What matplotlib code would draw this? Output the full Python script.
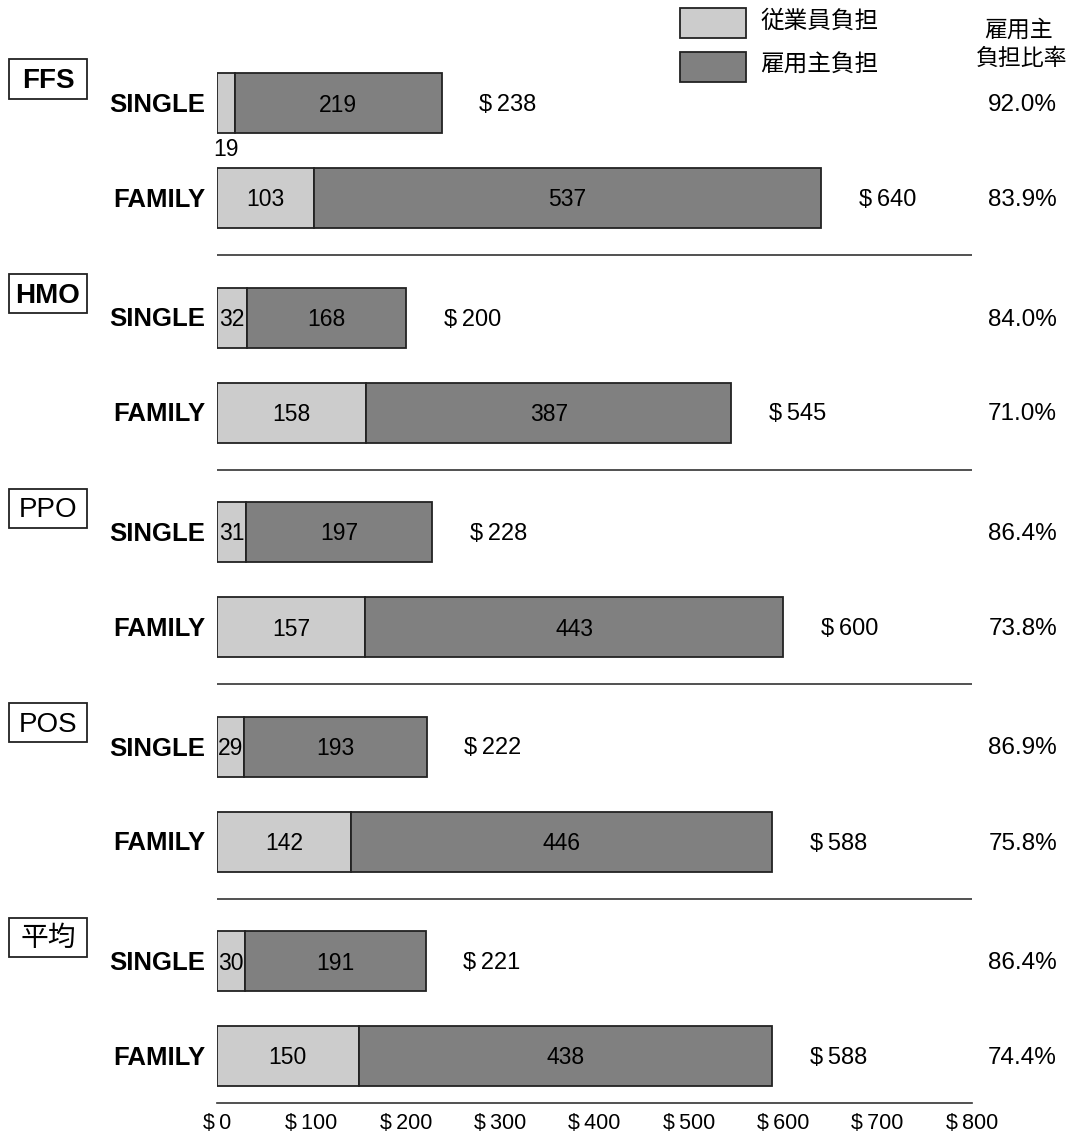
import matplotlib.pyplot as plt
from matplotlib.patches import Rectangle

plt.rcParams['font.family'] = ['Liberation Sans', 'Noto Sans CJK JP']

# data
plans = ['FFS', 'HMO', 'PPO', 'POS', '平均']
plan_bold = [True, True, False, False, False]
employee_single = [19, 32, 31, 29, 30]
employer_single = [219, 168, 197, 193, 191]
employee_family = [103, 158, 157, 142, 150]
employer_family = [537, 387, 443, 446, 438]
total_single = [238, 200, 228, 222, 221]
total_family = [640, 545, 600, 588, 588]
ratio_single = [92.0, 84.0, 86.4, 86.9, 86.4]
ratio_family = [83.9, 71.0, 73.8, 75.8, 74.4]
x_ticks = [0, 100, 200, 300, 400, 500, 600, 700, 800]

light = '#cccccc'
dark = '#808080'
edge = '#222222'

W, H = 1070, 1132
fig = plt.figure(figsize=(W / 100, H / 100), dpi=100)
ax = fig.add_axes([217 / W, 29 / H, 755 / W, 1103 / H])
ax.set_xlim(0, 800)
ax.set_ylim(1103, 0)  # y measured downward from the top


def fx(px):
    return px / W


def fy(py):
    return 1 - py / H


group_step = 214.5
family_offset = 95
bar_h = 60
dy = 2  # small nudge so text sits at the bar centre

for i, plan in enumerate(plans):
    yc = 103 + group_step * i
    rows = [
        ('SINGLE', yc, employee_single[i], employer_single[i], total_single[i], ratio_single[i]),
        ('FAMILY', yc + family_offset, employee_family[i], employer_family[i], total_family[i], ratio_family[i]),
    ]
    for name, y, emp, er, tot, ratio in rows:
        ax.barh(y, emp, height=bar_h, color=light, edgecolor=edge, linewidth=1.3)
        ax.barh(y, er, left=emp, height=bar_h, color=dark, edgecolor=edge, linewidth=1.3)
        if emp < 25:
            ax.text(emp / 2, y + bar_h / 2 + 16, str(emp), ha='center', va='center', fontsize=16.5)
        else:
            ax.text(emp / 2, y + dy, str(emp), ha='center', va='center', fontsize=16.5)
        ax.text(emp + er / 2, y + dy, str(er), ha='center', va='center', fontsize=16.5)
        ax.text(tot + 40, y + dy, '$\u2009' + str(tot), ha='left', va='center', fontsize=17)
        fig.text(fx(205), fy(y + dy), name, ha='right', va='center', fontsize=18.5, fontweight='bold')
        fig.text(fx(1057), fy(y + dy), f'{ratio:.1f}%', ha='right', va='center', fontsize=17.5)

    # boxed plan label
    by = yc - 24
    fig.patches.append(Rectangle((fx(9), fy(by + 19.5)), 78 / W, 39 / H, transform=fig.transFigure,
                                 facecolor='white', edgecolor=edge, linewidth=1.3))
    fig.text(fx(48), fy(by + dy), plan, ha='center', va='center', fontsize=20,
             fontweight='bold' if plan_bold[i] else 'normal')

    if i < len(plans) - 1:
        ax.hlines(yc + family_offset + 57, 0, 800, color='#333333', linewidth=1.2)

# axis
for s in ['top', 'right', 'left']:
    ax.spines[s].set_visible(False)
ax.spines['bottom'].set_color('#333333')
ax.spines['bottom'].set_linewidth(1.2)
ax.set_yticks([])
ax.set_xticks(x_ticks)
ax.set_xticklabels(['$\u2009' + str(v) for v in x_ticks], fontsize=15.5)
ax.tick_params(axis='x', length=0, pad=7)

# legend
fig.patches.append(Rectangle((fx(680), fy(38)), 66 / W, 30 / H, transform=fig.transFigure,
                             facecolor=light, edgecolor=edge, linewidth=1.3))
fig.patches.append(Rectangle((fx(680), fy(82)), 66 / W, 30 / H, transform=fig.transFigure,
                             facecolor=dark, edgecolor=edge, linewidth=1.3))
fig.text(fx(760), fy(22), '従業員負担', ha='left', va='center', fontsize=17)
fig.text(fx(760), fy(66), '雇用主負担', ha='left', va='center', fontsize=17)

# column header
fig.text(fx(1019), fy(30), '雇用主', ha='center', va='center', fontsize=16.5)
fig.text(fx(1022), fy(58), '負担比率', ha='center', va='center', fontsize=16.5)

fig.savefig('out.png', dpi=100)
